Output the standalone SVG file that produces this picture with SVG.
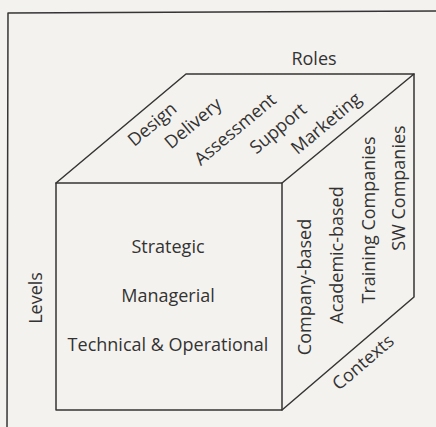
<svg xmlns="http://www.w3.org/2000/svg" width="436" height="427" viewBox="0 0 436 427">
  <style>
    .edge { fill: none; stroke: #353535; stroke-width: 1.5; stroke-linejoin: round; stroke-linecap: round; }
    .lbl { font-family: "Open Sans", "Noto Sans", "DejaVu Sans", sans-serif; font-size: 18px; fill: #333333; text-anchor: middle; }
  </style>
  <rect x="0" y="0" width="436" height="427" fill="#f4f2ee"/>

  <!-- page frame -->
  <path class="edge" d="M436,11 L8,13 L7,427"/>

  <!-- cube faces -->
  <g id="front-face">
    <rect class="edge" x="56" y="183" width="226" height="227"/>
    <text class="lbl" x="168" y="253">Strategic</text>
    <text class="lbl" x="168" y="302">Managerial</text>
    <text class="lbl" x="168" y="351">Technical &amp; Operational</text>
  </g>

  <g id="top-face">
    <path class="edge" d="M56,183 L186,74 L414,74 L282,183"/>
    <text class="lbl" transform="translate(156,129) rotate(-40)">Design</text>
    <text class="lbl" transform="translate(197,128) rotate(-40)">Delivery</text>
    <text class="lbl" transform="translate(239,134) rotate(-40)">Assessment</text>
    <text class="lbl" transform="translate(282,133) rotate(-40)">Support</text>
    <text class="lbl" transform="translate(330,128) rotate(-40)">Marketing</text>
  </g>

  <g id="right-face">
    <path class="edge" d="M414,74 L414,297 L282,410"/>
    <text class="lbl" transform="translate(311,287) rotate(-90)">Company-based</text>
    <text class="lbl" transform="translate(343,255) rotate(-90)">Academic-based</text>
    <text class="lbl" transform="translate(375,220) rotate(-90)">Training Companies</text>
    <text class="lbl" transform="translate(405,188) rotate(-90)">SW Companies</text>
  </g>

  <!-- axis names -->
  <g id="axis-labels">
    <text class="lbl" x="314" y="65">Roles</text>
    <text class="lbl" transform="translate(42,298) rotate(-90)">Levels</text>
    <text class="lbl" transform="translate(367,367) rotate(-40.5)">Contexts</text>
  </g>
</svg>
